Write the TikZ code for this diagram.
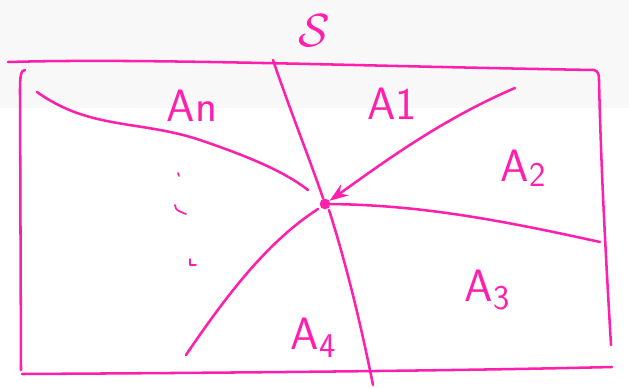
\documentclass[tikz,border=0pt]{standalone}
\usepackage{amsmath}
\definecolor{ink}{rgb}{1.0, 0.12, 0.68}
\definecolor{paper}{rgb}{0.973, 0.973, 0.973}
\usetikzlibrary{arrows.meta}
\usetikzlibrary{calc}

\begin{document}
\begin{tikzpicture}[x=0.75pt,y=0.75pt,yscale=-1,xscale=1,
	pen/.style={color=ink, line width=1.9, line cap=round, line join=round},
	lbl/.style={color=ink, inner sep=0pt, font=\sffamily\fontsize{34}{34}\selectfont}]
	\useasboundingbox (0,0) rectangle (629,388);
	%Shape: Background strip
	\fill [color=paper] (0,0) rectangle (629,108);
	
	%Shape: Frame top
	\draw [pen] (8,62) .. controls (150,58) and (350,66) .. (594,70) .. controls (598,71) and (599,74) .. (599,80);
	%Shape: Frame right
	\draw [pen] (599,80) .. controls (601,170) and (606,260) .. (611,345);
	%Shape: Frame left
	\draw [pen] (25,70) .. controls (21,70) and (20,76) .. (20,90) -- (21,370);
	%Shape: Frame bottom
	\draw [pen] (22,374) .. controls (200,373) and (450,371) .. (612,367);
	
	% Centre point
	\node [circle, fill=ink, inner sep=0pt, minimum size=8pt] (c) at (325,204) {};
	\coordinate (s0) at (273,60);
	\coordinate (a1) at (515,88);
	\coordinate (an) at (37,92);
	\coordinate (a2) at (600,242);
	\coordinate (a4) at (186,355);
	\coordinate (a3) at (373,385);
	
	%Curve Lines [id:S]
	\draw [pen] (s0) .. controls (290,110) and (310,160) .. (c);
	%Straight Lines [id:A1]
	\draw [pen, -{Stealth[length=14pt,width=10pt]}] (a1) .. controls (440,120) and (380,165) .. (c);
	%Curve Lines [id:An]
	\draw [pen] (an) .. controls (90,130) and (140,120) .. (200,140) .. controls (250,157) and (285,172) .. ($(c)+(-17,-14)$);
	%Curve Lines [id:A2A3]
	\draw [pen] (c) .. controls (420,205) and (500,220) .. (a2);
	%Curve Lines [id:A4left]
	\draw [pen] ($(c)+(-7,5)$) .. controls (270,240) and (230,290) .. (a4);
	%Curve Lines [id:A4right]
	\draw [pen] ($(c)+(4,6)$) .. controls (345,260) and (360,320) .. (a3);
	
	% dots
	\draw [pen, line width=1.3] (178,173) -- (179,176);
	\draw [pen, line width=1.3] (175,205) .. controls (176,210) .. (186,214);
	\draw [pen, line width=1.3] (190,259) -- (190,265) -- (196,265);
	
	% Text Node
	\node [lbl, scale=1.4] (ls) at (314,31) {$\mathcal{S}$};
	% Text Node
	\node [lbl] (lan) at (192,106) {An};
	% Text Node
	\node [lbl] (la1) at (392,104) {A1};
	% Text Node
	\node [lbl] (la2) at (523,168) {A\raisebox{-4pt}{\fontsize{26}{26}\selectfont 2}};
	% Text Node
	\node [lbl] (la3) at (487,290) {A\raisebox{-6pt}{\fontsize{26}{26}\selectfont 3}};
	% Text Node
	\node [lbl] (la4) at (313,338) {A\raisebox{-6pt}{\fontsize{26}{26}\selectfont 4}};
	
\end{tikzpicture}
\end{document}
